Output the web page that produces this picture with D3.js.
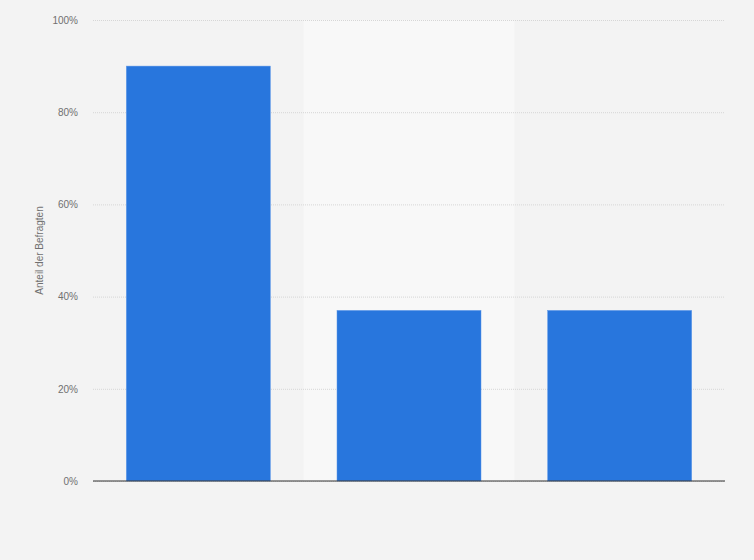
<!DOCTYPE html>
<html>
<head>
<meta charset="utf-8">
<script src="https://cdn.jsdelivr.net/npm/d3@7"></script>
<style>
  html, body { margin: 0; padding: 0; background: #f3f3f3; }
  svg { display: block; font-family: "Liberation Sans", Arial, sans-serif; }
</style>
</head>
<body>
<svg id="chart" width="754" height="560"></svg>
<script>
// categories are not labelled in the original, so only keys
const categories = ['1', '2', '3'];
const shares = [90, 37, 37];
const yTicks = [0, 20, 40, 60, 80, 100];
const yTitle = 'Anteil der Befragten';

const svg = d3.select('#chart');
const W = 754, H = 560;
const m = { top: 20, right: 29, bottom: 79, left: 93 };
const iw = W - m.left - m.right;
const ih = H - m.top - m.bottom;

svg.append('rect').attr('width', W).attr('height', H).attr('fill', '#f3f3f3');

const x = d3.scaleBand().domain(categories).range([0, iw]).paddingInner(0).paddingOuter(0);
const y = d3.scaleLinear().domain([0, 100]).range([ih, 0]);

const g = svg.append('g').attr('transform', `translate(${m.left},${m.top})`);

// alternating band background (middle one lighter)
g.selectAll('.band')
  .data(categories)
  .join('rect')
  .attr('class', 'band')
  .attr('x', d => x(d))
  .attr('y', 0)
  .attr('width', x.bandwidth())
  .attr('height', ih)
  .attr('fill', (d, i) => i % 2 === 1 ? '#f8f8f8' : 'none');

// gridlines + tick labels
const yAxis = d3.axisLeft(y).tickValues(yTicks).tickFormat(d => d + '%').tickSize(-iw).tickPadding(15);
const ya = g.append('g').call(yAxis);
ya.select('.domain').remove();
ya.selectAll('.tick line')
  .attr('stroke', '#d6d6d6')
  .attr('stroke-dasharray', '1,1');
ya.selectAll('.tick text')
  .attr('fill', '#707070')
  .attr('font-size', 10);

// bars
const barW = 144;
g.selectAll('.bar')
  .data(shares)
  .join('rect')
  .attr('class', 'bar')
  .attr('x', (d, i) => x(categories[i]) + (x.bandwidth() - barW) / 2)
  .attr('y', d => y(d))
  .attr('width', barW)
  .attr('height', d => ih - y(d))
  .attr('fill', '#2876dd')
  .attr('stroke', '#5b96e8')
  .attr('stroke-width', 0.5);

// baseline
g.append('line')
  .attr('x1', 0).attr('x2', iw)
  .attr('y1', ih).attr('y2', ih)
  .attr('stroke', '#333')
  .attr('stroke-width', 1.2);

// y axis title
svg.append('text')
  .attr('transform', `translate(43,${m.top + ih / 2}) rotate(-90)`)
  .attr('text-anchor', 'middle')
  .attr('font-size', 10)
  .attr('fill', '#707070')
  .text(yTitle);
</script>
</body>
</html>
